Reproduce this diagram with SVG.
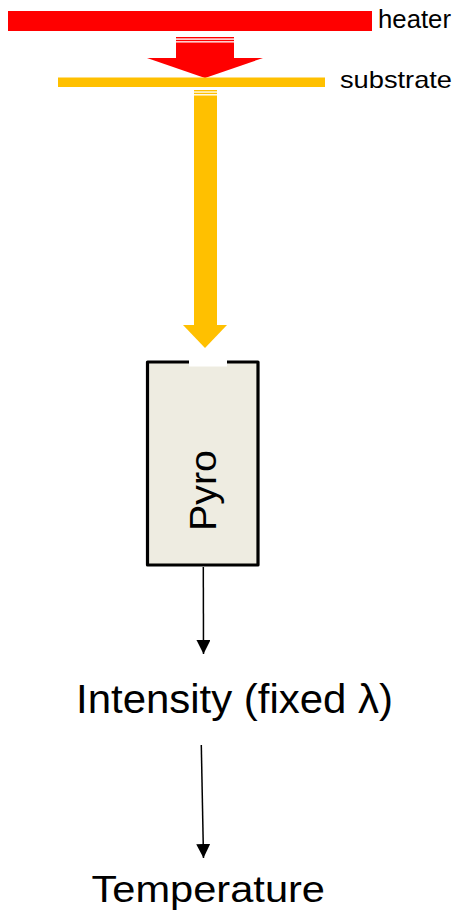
<svg xmlns="http://www.w3.org/2000/svg" width="461" height="916" viewBox="0 0 461 916">
<style>
.lbl{font-family:"Liberation Sans",Arial,sans-serif;fill:#000}
.conn{stroke:#000;stroke-width:1.5;fill:none}
.red{fill:#FF0000}
.yel{fill:#FFC000}
</style>
<defs>
<marker id="ah" markerUnits="userSpaceOnUse" markerWidth="14" markerHeight="14" refX="14" refY="7" orient="auto">
<path d="M0,0 L14,7 L0,14 z" fill="#000"/>
</marker>
</defs>
<rect width="461" height="916" fill="#fff"/>
<g id="heater">
<rect class="red" x="8" y="11" width="364" height="20"/>
<text class="lbl" x="378" y="28" font-size="25" textLength="73" lengthAdjust="spacingAndGlyphs">heater</text>
</g>
<g id="heat-arrow">
<rect class="red" x="176" y="37" width="58" height="1.4"/>
<rect class="red" x="176" y="39.8" width="58" height="1.4"/>
<rect class="red" x="176" y="42.5" width="58" height="16"/>
<polygon class="red" points="147,58 263,58 205,78"/>
</g>
<g id="substrate">
<rect class="yel" x="58" y="77.5" width="267" height="9.5"/>
<text class="lbl" x="340" y="88" font-size="24" textLength="112" lengthAdjust="spacingAndGlyphs">substrate</text>
</g>
<g id="emission-arrow">
<rect class="yel" x="194" y="90" width="23" height="1.4"/>
<rect class="yel" x="194" y="92.7" width="23" height="1.4"/>
<rect class="yel" x="194" y="95.5" width="23" height="230"/>
<polygon class="yel" points="183,325 227,325 205,348"/>
</g>
<g id="pyro">
<rect x="147.5" y="362" width="110.5" height="203" fill="#EEECE1" stroke="#000" stroke-width="3.2" stroke-linejoin="round"/>
<rect x="189" y="359" width="38" height="7.5" fill="#fff"/>
<text class="lbl" transform="translate(216,531) rotate(-90)" x="0" y="0" font-size="37" textLength="81" lengthAdjust="spacingAndGlyphs">Pyro</text>
</g>
<g id="connectors">
<line class="conn" x1="203.3" y1="567" x2="203.5" y2="654" marker-end="url(#ah)"/>
<line class="conn" x1="201.3" y1="745" x2="203.5" y2="858" marker-end="url(#ah)"/>
</g>
<g id="intensity">
<text class="lbl" x="76" y="713" font-size="40" textLength="317" lengthAdjust="spacingAndGlyphs">Intensity (fixed λ)</text>
</g>
<g id="temperature">
<text class="lbl" x="91.5" y="902" font-size="37" textLength="233.5" lengthAdjust="spacingAndGlyphs">Temperature</text>
</g>
</svg>
